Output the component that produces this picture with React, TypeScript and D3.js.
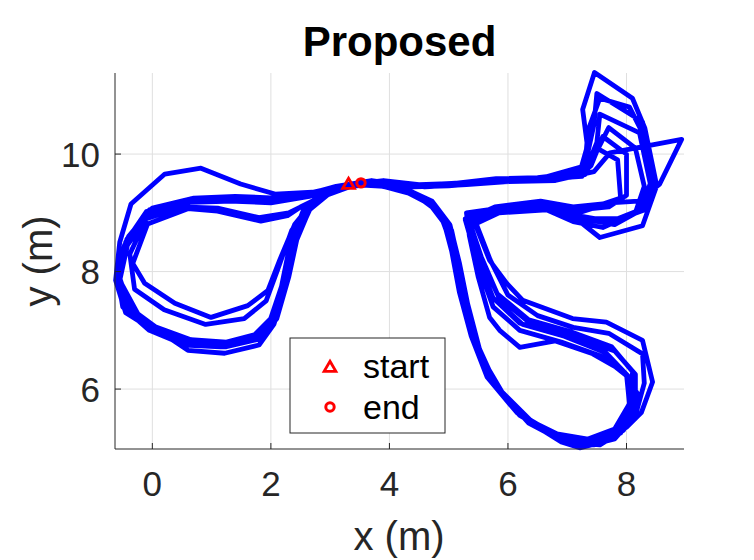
import React from "react";
import * as d3 from "d3";

type Pt = [number, number];

// trajectory, read lap by lap off the figure (x, y in metres)
const lap1: Pt[] = [
  [3.31, 9.49], [3.9, 9.45], [4.45, 9.3], [4.85, 9.0], [5.05, 8.45], [5.2, 7.7], [5.4, 6.85], [5.7, 6.15],
  [6.2, 5.55], [6.8, 5.2], [7.4, 5.05], [7.9, 5.25], [8.15, 5.7], [8.15, 6.25], [7.8, 6.65], [7.1, 6.9],
  [6.4, 7.1], [5.85, 7.55], [5.55, 8.25], [5.35, 8.85], [5.9, 9.05], [6.7, 9.1], [7.2, 8.95], [7.75, 8.85],
  [8.3, 9.05], [8.45, 9.6], [8.3, 10.3], [8.05, 10.8], [7.55, 10.95], [7.35, 10.4], [7.3, 9.8], [7.0, 9.6],
  [6.3, 9.57], [5.6, 9.52], [4.9, 9.47], [4.3, 9.46], [3.7, 9.55], [3.1, 9.45], [2.55, 9.3], [2.0, 9.22],
  [1.3, 9.25], [0.6, 9.22], [-0.1, 9.02], [-0.45, 8.5], [-0.58, 7.9], [-0.4, 7.35], [0.0, 7.05], [0.6, 6.82],
  [1.2, 6.78], [1.7, 6.9], [2.0, 7.2], [2.2, 7.8], [2.35, 8.5], [2.6, 9.1], [3.0, 9.4],
];
const lap2: Pt[] = [
  [3.6, 9.52], [4.2, 9.42], [4.7, 9.18], [5.0, 8.75], [5.15, 8.1], [5.3, 7.4], [5.5, 6.65], [5.85, 6.0],
  [6.35, 5.45], [6.95, 5.12], [7.55, 5.08], [8.0, 5.35], [8.25, 5.6], [8.44, 6.12], [8.27, 6.83], [7.66, 7.14],
  [7.09, 7.2], [6.25, 7.51], [5.98, 7.8], [5.69, 8.19], [5.45, 8.8], [5.9, 9.1], [6.7, 9.12], [7.09, 8.95],
  [7.55, 8.58], [8.27, 8.78], [8.51, 9.46], [8.31, 10.44], [8.1, 10.95], [7.46, 11.39], [7.26, 10.76], [7.34, 10.14],
  [7.21, 9.68], [6.5, 9.6], [5.8, 9.58], [5.1, 9.5], [4.5, 9.48], [3.9, 9.55], [3.3, 9.48], [2.7, 9.35],
  [2.07, 9.32], [1.49, 9.49], [0.82, 9.76], [0.21, 9.66], [-0.36, 9.15], [-0.55, 8.5], [-0.62, 7.85], [-0.45, 7.3],
  [0.1, 6.95], [0.6, 6.75], [1.25, 6.72], [1.8, 6.85], [2.1, 7.2], [2.3, 7.9], [2.45, 8.6], [2.7, 9.15], [3.1, 9.42],
];
const lap3: Pt[] = [
  [3.6, 9.5], [4.25, 9.4], [4.75, 9.15], [5.05, 8.7], [5.2, 8.0], [5.35, 7.3], [5.55, 6.55], [5.9, 5.95],
  [6.4, 5.45], [7.0, 5.15], [7.6, 5.12], [8.0, 5.4], [8.2, 5.9], [7.95, 6.3], [7.43, 6.6], [6.8, 6.82],
  [6.2, 6.71], [5.86, 7.0], [5.69, 7.22], [5.5, 7.9], [5.35, 8.6], [5.3, 9.0], [5.86, 9.08], [6.7, 9.12],
  [7.2, 9.0], [7.72, 9.17], [8.2, 9.2], [8.56, 9.49], [8.93, 10.25], [7.72, 10.02], [7.45, 9.7], [6.8, 9.55],
  [6.0, 9.53], [5.3, 9.48], [4.6, 9.44], [4.0, 9.5], [3.4, 9.47], [2.8, 9.25], [2.5, 9.1], [2.28, 8.95],
  [1.83, 8.86], [1.1, 9.03], [0.6, 9.07], [-0.08, 8.81], [-0.33, 8.14], [-0.13, 7.8], [0.38, 7.46], [0.99, 7.22],
  [1.61, 7.42], [1.95, 7.68], [2.15, 8.2], [2.4, 8.8], [2.8, 9.3],
];
const lap4: Pt[] = [
  [3.5, 9.5], [4.15, 9.43], [4.65, 9.22], [4.95, 8.85], [5.1, 8.25], [5.25, 7.55], [5.45, 6.75], [5.75, 6.1],
  [6.25, 5.52], [6.85, 5.18], [7.45, 5.05], [7.9, 5.3], [8.1, 5.75], [8.1, 6.3], [7.75, 6.72], [7.05, 6.98],
  [6.35, 7.18], [5.82, 7.62], [5.5, 8.32], [5.28, 8.9], [5.75, 9.08], [6.55, 9.08], [7.15, 8.92], [7.8, 8.8],
  [8.25, 9.05], [8.4, 9.5], [8.22, 10.36], [7.55, 10.68], [7.5, 10.2], [7.3, 9.7], [6.6, 9.56], [5.8, 9.53],
  [5.05, 9.47], [4.45, 9.45], [3.85, 9.52], [3.25, 9.44], [2.65, 9.28], [2.05, 9.18], [1.35, 9.2], [0.65, 9.18],
  [-0.05, 8.98], [-0.42, 8.45], [-0.55, 7.85], [-0.2, 7.2], [0.6, 6.66], [1.22, 6.61], [1.8, 6.75], [2.05, 7.1],
  [2.25, 7.75], [2.4, 8.45], [2.65, 9.05], [3.05, 9.38],
];
const lap5: Pt[] = [
  [3.55, 9.5], [4.2, 9.44], [4.72, 9.2], [5.02, 8.8], [5.18, 8.15], [5.32, 7.45], [5.52, 6.68], [5.82, 6.02],
  [6.3, 5.48], [6.9, 5.1], [7.21, 5.0], [7.8, 5.15], [8.15, 5.55], [8.3, 6.1], [8.27, 6.6], [7.7, 6.95],
  [7.1, 7.05], [6.5, 7.25], [6.0, 7.6], [5.7, 8.2], [5.45, 8.85], [5.95, 9.12], [6.75, 9.1], [7.25, 8.9],
  [7.85, 8.9], [8.35, 9.1], [8.45, 9.5], [8.27, 10.55], [7.5, 11.03], [7.45, 10.5], [7.3, 9.8], [6.6, 9.6],
  [5.85, 9.55], [5.1, 9.5], [4.5, 9.46], [3.9, 9.54], [3.3, 9.47], [2.7, 9.33], [2.1, 9.25], [1.4, 9.28],
  [0.7, 9.25], [0.0, 9.08], [-0.4, 8.6], [-0.6, 8.0], [-0.5, 7.4], [-0.05, 7.0], [0.55, 6.75], [1.15, 6.72],
  [1.65, 6.85], [1.98, 7.15], [2.18, 7.75], [2.32, 8.45], [2.55, 9.05], [2.95, 9.38],
];
const lap6: Pt[] = [
  [3.5, 9.52], [4.1, 9.45], [4.6, 9.25], [4.92, 8.9], [5.08, 8.3], [5.22, 7.6], [5.42, 6.8], [5.7, 6.15],
  [6.2, 5.58], [6.8, 5.22], [7.4, 5.12], [7.85, 5.3], [8.05, 5.7], [8.05, 6.2], [7.65, 6.62], [6.95, 6.9],
  [6.25, 7.1], [5.75, 7.55], [5.48, 8.25], [5.3, 8.85], [5.8, 9.05], [6.6, 9.15], [7.2, 9.05], [7.7, 9.1],
  [8.0, 9.3], [8.0, 10.0], [7.6, 10.3], [7.4, 9.8], [7.2, 9.62], [6.5, 9.55], [5.7, 9.52], [5.0, 9.46],
  [4.4, 9.44], [3.8, 9.5], [3.2, 9.43], [2.6, 9.27], [2.0, 9.17], [1.3, 9.2], [0.6, 9.19], [-0.1, 9.0],
  [-0.47, 8.45], [-0.6, 7.85], [-0.42, 7.3], [0.02, 7.0], [0.62, 6.78], [1.22, 6.75], [1.72, 6.88], [2.02, 7.2],
  [2.22, 7.85], [2.38, 8.55], [2.62, 9.12], [3.02, 9.4],
];
const lap7: Pt[] = [
  [3.55, 9.5], [4.2, 9.4], [4.68, 9.15], [4.98, 8.75], [5.12, 8.1], [5.28, 7.4], [5.5, 6.6], [5.85, 5.98],
  [6.35, 5.42], [6.95, 5.1], [7.55, 5.05], [7.95, 5.3], [8.18, 5.75], [8.1, 6.15], [7.6, 6.55], [6.9, 6.8],
  [6.2, 7.0], [5.75, 7.4], [5.5, 8.1], [5.32, 8.75], [5.85, 9.0], [6.65, 9.05], [7.1, 8.85], [7.6, 8.75],
  [8.15, 9.0], [8.3, 9.45], [8.15, 10.1], [7.7, 10.45], [7.45, 9.95], [7.25, 9.62], [6.5, 9.57], [5.75, 9.53],
  [5.0, 9.48], [4.4, 9.44], [3.85, 9.53], [3.25, 9.46], [2.7, 9.2], [2.3, 9.0], [1.8, 8.92], [1.1, 9.08],
  [0.5, 9.1], [-0.1, 8.9], [-0.38, 8.3], [-0.3, 7.7], [0.2, 7.35], [0.9, 7.1], [1.55, 7.2], [1.92, 7.5],
  [2.12, 8.05], [2.35, 8.7], [2.75, 9.25],
];
const lap8: Pt[] = [
  [3.4, 9.48], [4.05, 9.44], [4.55, 9.27], [4.9, 8.92], [5.05, 8.35], [5.18, 7.65], [5.38, 6.9], [5.65, 6.2],
  [6.15, 5.6], [6.75, 5.25], [7.35, 5.15], [7.8, 5.32], [8.05, 5.75], [8.0, 6.25], [7.6, 6.65], [6.9, 6.92],
  [6.2, 7.12], [5.72, 7.58], [5.45, 8.28], [5.28, 8.88], [5.78, 9.1], [6.55, 9.2], [7.1, 9.1], [7.6, 9.15],
  [7.9, 9.25], [7.85, 9.9], [7.5, 10.1], [7.3, 9.65], [6.6, 9.58], [5.8, 9.55], [5.05, 9.5], [4.45, 9.47],
  [3.85, 9.54], [3.25, 9.47], [2.65, 9.3], [2.05, 9.22], [1.35, 9.26], [0.65, 9.24], [-0.05, 9.05], [-0.43, 8.55],
  [-0.57, 7.95], [-0.38, 7.38], [0.05, 7.06], [0.65, 6.84], [1.25, 6.8], [1.75, 6.93], [2.05, 7.25], [2.25, 7.88],
  [2.42, 8.6], [2.7, 9.18], [3.1, 9.45], [3.52, 9.51],
];

const startPt: Pt = [3.31, 9.49];
const endPt: Pt = [3.52, 9.51];

const xTicks = [0, 2, 4, 6, 8];
const yTicks = [6, 8, 10];
const xLim = [-0.63, 8.97];
const yLim = [4.98, 11.38];

const W = 754;
const H = 560;
const box = { left: 115, right: 684, top: 73, bottom: 449 };
const axisColor = "#262626";
const font = "'Liberation Sans', Arial, Helvetica, sans-serif";

export default function App() {
  const x = d3.scaleLinear().domain(xLim).range([box.left, box.right]);
  const y = d3.scaleLinear().domain(yLim).range([box.bottom, box.top]);

  const track = [lap1, lap2, lap3, lap4, lap5, lap6, lap7, lap8].flat();
  const line = d3
    .line<Pt>()
    .x((d) => x(d[0]))
    .y((d) => y(d[1]));

  const tri = d3.symbol(d3.symbolTriangle, 60)();

  return (
    <svg
      width={W}
      height={H}
      style={{ position: "absolute", left: 0, top: 0, background: "#fff" }}
    >
      <rect width={W} height={H} fill="#fff" />

      {/* grid */}
      <g stroke="#dfdfdf" strokeWidth={1}>
        {xTicks.map((t) => (
          <line key={"gx" + t} x1={x(t)} x2={x(t)} y1={box.top} y2={box.bottom} />
        ))}
        {yTicks.map((t) => (
          <line key={"gy" + t} x1={box.left} x2={box.right} y1={y(t)} y2={y(t)} />
        ))}
      </g>

      {/* trajectory */}
      <path
        d={line(track) || ""}
        fill="none"
        stroke="#0000ff"
        strokeWidth={4.8}
        strokeLinejoin="round"
        strokeLinecap="round"
      />

      {/* start / end markers */}
      <path
        d={tri || ""}
        transform={`translate(${x(startPt[0])},${y(startPt[1]) + 1})`}
        fill="none"
        stroke="#ff0000"
        strokeWidth={2.8}
      />
      <circle cx={x(endPt[0])} cy={y(endPt[1])} r={4.2} fill="none" stroke="#ff0000" strokeWidth={3} />

      {/* axes */}
      <g stroke={axisColor} strokeWidth={1} fill="none">
        <line x1={box.left} x2={box.left} y1={box.top} y2={box.bottom} />
        <line x1={box.left} x2={box.right} y1={box.bottom} y2={box.bottom} />
        {xTicks.map((t) => (
          <line key={"tx" + t} x1={x(t)} x2={x(t)} y1={box.bottom} y2={box.bottom - 6} />
        ))}
        {yTicks.map((t) => (
          <line key={"ty" + t} x1={box.left} x2={box.left + 6} y1={y(t)} y2={y(t)} />
        ))}
      </g>

      <g fontFamily={font} fontSize={35} fill={axisColor}>
        {xTicks.map((t) => (
          <text key={"lx" + t} x={x(t)} y={496} textAnchor="middle">
            {t}
          </text>
        ))}
        {yTicks.map((t) => (
          <text key={"ly" + t} x={box.left - 15} y={y(t)} dy="0.36em" textAnchor="end">
            {t}
          </text>
        ))}
      </g>

      <text
        x={(box.left + box.right) / 2 - 0.5}
        y={550}
        textAnchor="middle"
        fontFamily={font}
        fontSize={40}
        fill={axisColor}
      >
        x (m)
      </text>
      <text
        transform={`translate(52,${(box.top + box.bottom) / 2}) rotate(-90)`}
        textAnchor="middle"
        fontFamily={font}
        fontSize={40}
        fill={axisColor}
      >
        y (m)
      </text>

      <text
        x={(box.left + box.right) / 2}
        y={56}
        textAnchor="middle"
        fontFamily={font}
        fontSize={42}
        fontWeight="bold"
        fill="#000"
      >
        Proposed
      </text>

      {/* legend */}
      <g>
        <rect x={290} y={338} width={155} height={95} fill="#fff" stroke={axisColor} strokeWidth={1} />
        <path
          d={tri || ""}
          transform="translate(330,368)"
          fill="none"
          stroke="#ff0000"
          strokeWidth={2.8}
        />
        <circle cx={330} cy={407} r={4.2} fill="none" stroke="#ff0000" strokeWidth={3} />
        <g fontFamily={font} fontSize={34} fill="#000">
          <text x={363} y={378}>start</text>
          <text x={363} y={419}>end</text>
        </g>
      </g>
    </svg>
  );
}
